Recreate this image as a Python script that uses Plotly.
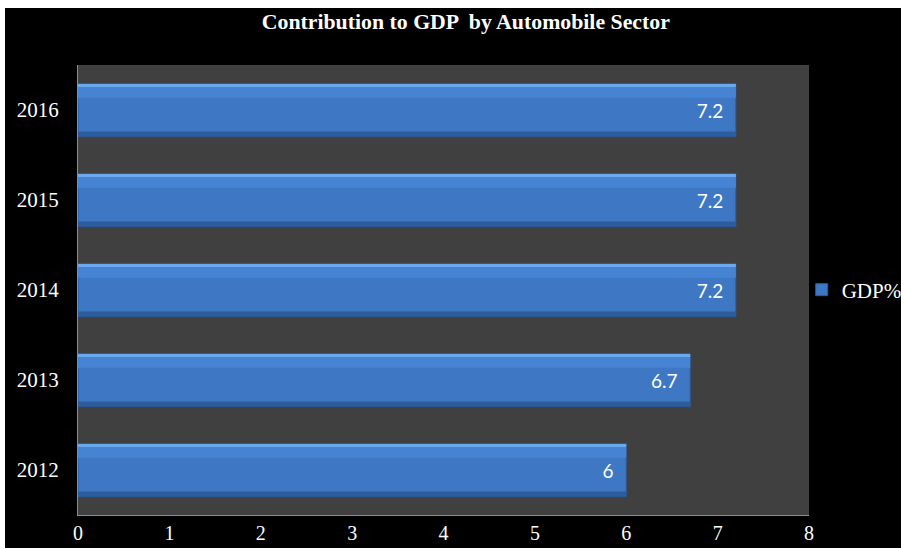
import plotly.graph_objects as go

years = ["2012", "2013", "2014", "2015", "2016"]
gdp_share = [6, 6.7, 7.2, 7.2, 7.2]
series_name = "GDP%"
title_text = "Contribution to GDP  by Automobile Sector"

W, H = 901, 548
ML, MR, MT, MB = 78, 92, 65, 33
PW, PH = W - ML - MR, H - MT - MB

fig = go.Figure()

# main bar body
fig.add_trace(go.Bar(
    y=years, x=gdp_share, orientation="h", name=series_name,
    width=0.59,
    marker=dict(color="#3e78c5", line=dict(color="#2c5a98", width=1)),
    text=[str(v) + "\u00a0\u00a0" for v in gdp_share], textposition="inside",
    insidetextanchor="end",
    textfont=dict(family="Lato, Liberation Sans, sans-serif", size=19, color="white"),
    showlegend=True,
))
# bevel highlight strips
fig.add_trace(go.Bar(
    y=years, x=gdp_share, orientation="h", width=0.035, offset=0.255,
    marker=dict(color="#6ba8ee", line=dict(width=0)),
    showlegend=False, hoverinfo="skip",
))
fig.add_trace(go.Bar(
    y=years, x=gdp_share, orientation="h", width=0.12, offset=0.135,
    marker=dict(color="#4683d3", line=dict(width=0)),
    showlegend=False, hoverinfo="skip",
))
# bottom shade strip
fig.add_trace(go.Bar(
    y=years, x=gdp_share, orientation="h", width=0.05, offset=-0.29,
    marker=dict(color="#2d5c9c", line=dict(width=0)),
    showlegend=False, hoverinfo="skip",
))

serif = "Liberation Serif, Times New Roman, serif"
fig.update_layout(
    width=W, height=H, autosize=False,
    barmode="overlay",
    paper_bgcolor="black", plot_bgcolor="#404040",
    margin=dict(l=ML, r=MR, t=MT, b=MB, autoexpand=False),
    title=dict(text="<b>" + title_text + "</b>", x=0.517, xanchor="center", y=1 - 21 / H, yanchor="middle",
               font=dict(family=serif, size=21.8, color="white")),
    font=dict(family=serif, size=21, color="white"),
    xaxis=dict(range=[0, 8], dtick=1, showgrid=False, zeroline=False, automargin=False,
               showline=True, linecolor="#8c8c8c", linewidth=1,
               ticks="", ticklabelstandoff=0,
               tickfont=dict(family=serif, size=20, color="white")),
    yaxis=dict(showgrid=False, zeroline=False, showline=True, linecolor="#8c8c8c", linewidth=1,
               ticks="", ticklabelstandoff=14, automargin=False,
               tickfont=dict(family=serif, size=21, color="white")),
    legend=dict(x=0.99, y=0.5, xanchor="left", yanchor="middle",
                font=dict(family=serif, size=21, color="white"),
                itemwidth=30, bgcolor="rgba(0,0,0,0)"),
    shapes=[
        dict(type="rect", xref="paper", yref="paper", x0=-0.2, x1=1.3,
             y0=1 + (MT - 8) / PH, y1=1.3,
             fillcolor="white", line=dict(width=0), layer="above"),
        dict(type="rect", xref="paper", yref="paper", x0=-0.2, x1=-(ML - 5) / PW,
             y0=-0.2, y1=1.3,
             fillcolor="white", line=dict(width=0), layer="above"),
    ],
)
fig.write_html("out.html", config={"displayModeBar": False})

with open("out.html", "r", encoding="utf-8") as f:
    html = f.read()
html = html.replace("<head>", "<head><style>html,body{margin:0;padding:0;overflow:hidden;}</style>", 1)
with open("out.html", "w", encoding="utf-8") as f:
    f.write(html)
